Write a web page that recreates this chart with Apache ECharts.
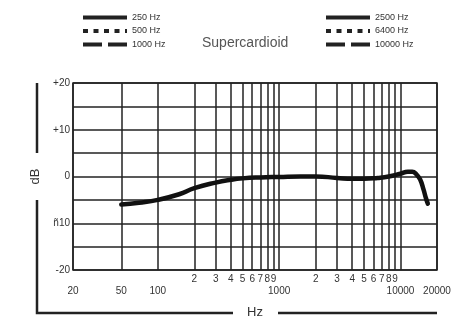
<!DOCTYPE html>
<html lang="en">
<head>
    <meta charset="UTF-8">
    <title>Supercardioid</title>
    <style>
        html, body { margin: 0; padding: 0; background: #fff; }
        #main { width: 475px; height: 317px; }
    </style>
</head>
<body>
    <div id="main"></div>
</body>
<script src="https://cdn.jsdelivr.net/npm/echarts@6/dist/echarts.min.js"></script>
<script>
    var main = echarts.init(document.getElementById('main'));

    // response curve (Hz, dB)
    var freqs = [50, 70, 100, 150, 200, 300, 400, 500, 700, 1000, 1500, 2000, 3000, 4000, 5000, 6500, 8000, 10000, 11500, 12500, 13500, 14500, 15500, 16200, 16800];
    var levels = [-6, -5.6, -5, -3.8, -2.5, -1.3, -0.7, -0.4, -0.2, -0.1, 0, 0, -0.3, -0.5, -0.5, -0.3, 0, 0.6, 1, 1, 0.5, -0.6, -2.8, -4.6, -5.8];

    // grid lines and labels on the frequency axis
    var gridFreqs = [20, 50, 100, 200, 300, 400, 500, 600, 700, 800, 900, 1000,
        2000, 3000, 4000, 5000, 6000, 7000, 8000, 9000, 10000, 20000];
    var mainFreqLabels = [20, 50, 100, 1000, 10000, 20000];
    var subFreqLabels = [200, 300, 400, 500, 600, 700, 800, 900, 2000, 3000, 4000, 5000, 6000, 7000, 8000, 9000];
    var dbLabels = { '20': '+20', '10': '+10', '0': '0', '-10': 'ñ10', '-20': '-20' };

    var legendLeft = ['250 Hz', '500 Hz', '1000 Hz'];
    var legendRight = ['2500 Hz', '6400 Hz', '10000 Hz'];
    var legendTypes = ['solid', [5, 5.5], [19, 6]];

    var font = 'Liberation Sans, Arial, sans-serif';
    var ink = '#222';

    var curve = freqs.map(function (f, i) { return [f, levels[i]]; });

    var series = [{
        type: 'line',
        name: 'response',
        data: curve,
        smooth: true,
        symbol: 'none',
        lineStyle: { color: '#111', width: 4.5, cap: 'round' },
        z: 5
    }];
    legendLeft.concat(legendRight).forEach(function (name, i) {
        series.push({
            type: 'line',
            name: name,
            data: [],
            symbol: 'none',
            color: ink,
            lineStyle: { color: ink, width: 4, type: legendTypes[i % 3] }
        });
    });

    var legendCommon = {
        orient: 'vertical',
        top: 8,
        itemWidth: 44,
        itemHeight: 10,
        itemGap: 4.5,
        selectedMode: false,
        textStyle: { color: '#333', fontSize: 9, fontFamily: font },
        itemStyle: { opacity: 0 },
        lineStyle: { width: 4 }
    };

    var option = {
        backgroundColor: '#fff',
        animation: false,
        title: {
            text: 'Supercardioid',
            left: 197,
            top: 31,
            textStyle: { color: '#555', fontSize: 14, fontWeight: 'normal', fontFamily: font }
        },
        legend: [
            Object.assign({}, legendCommon, { left: 76, data: legendLeft }),
            Object.assign({}, legendCommon, { left: 319, data: legendRight })
        ],
        grid: {
            left: 73, right: 38, top: 83, bottom: 47,
            outerBoundsMode: 'none',
            show: true, borderColor: ink, borderWidth: 1.5
        },
        xAxis: [{
            type: 'log',
            logBase: 10,
            min: 20,
            max: 20000,
            name: 'Hz',
            nameLocation: 'middle',
            nameGap: 36,
            nameTextStyle: { color: '#333', fontSize: 13, fontFamily: font },
            axisLine: { show: false },
            axisTick: { show: false, customValues: gridFreqs },
            splitLine: { show: true, lineStyle: { color: ink, width: 1.5 } },
            axisLabel: {
                customValues: mainFreqLabels,
                margin: 16,
                color: '#333',
                fontSize: 10,
                fontFamily: font,
                showMinLabel: true,
                showMaxLabel: true,
                formatter: function (v) { return String(v); }
            }
        }, {
            type: 'log',
            logBase: 10,
            min: 20,
            max: 20000,
            position: 'bottom',
            axisLine: { show: false },
            axisTick: { show: false, customValues: subFreqLabels },
            splitLine: { show: false },
            axisLabel: {
                customValues: subFreqLabels,
                margin: 4,
                color: '#333',
                fontSize: 10,
                fontFamily: font,
                formatter: function (v) {
                    return String(v).charAt(0);
                }
            }
        }],
        yAxis: {
            type: 'value',
            min: -20,
            max: 20,
            interval: 5,
            name: 'dB',
            nameLocation: 'middle',
            nameRotate: 90,
            nameGap: 23,
            nameTextStyle: { color: '#333', fontSize: 13, fontFamily: font },
            axisLine: { show: false },
            axisTick: { show: false },
            splitLine: { show: true, lineStyle: { color: ink, width: 1.5 } },
            axisLabel: {
                margin: 3,
                color: '#333',
                fontSize: 10,
                fontFamily: font,
                formatter: function (v) {
                    var s = dbLabels[String(v)];
                    return s === undefined ? '' : s;
                }
            }
        },
        // frame round the axis titles
        graphic: [{
            type: 'polyline',
            shape: { points: [[37, 83], [37, 153]] },
            style: { stroke: ink, lineWidth: 2.5, fill: null }
        }, {
            type: 'polyline',
            shape: { points: [[37, 200], [37, 313], [233, 313]] },
            style: { stroke: ink, lineWidth: 2.5, fill: null }
        }, {
            type: 'polyline',
            shape: { points: [[278, 313], [437, 313]] },
            style: { stroke: ink, lineWidth: 2.5, fill: null }
        }],
        series: series
    };
    main.setOption(option);
</script>
</html>
